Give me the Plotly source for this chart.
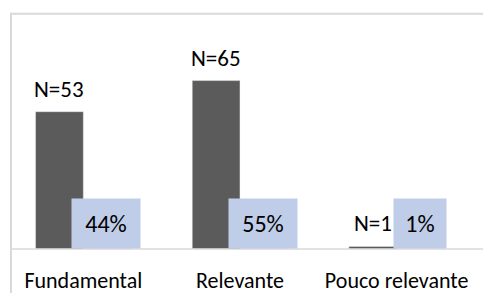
import plotly.graph_objects as go

categories = ["Fundamental", "Relevante", "Pouco relevante"]
counts = [53, 65, 1]
percents = [44, 55, 1]
count_labels = [f"N={n}" for n in counts]
percent_labels = [f"{p}%" for p in percents]

FONT = "Carlito, Calibri, Lato, sans-serif"
GRAY = "#5b5b5b"
BLUE = "#bfcde9"
FRAME = "#d9d9d9"

fig = go.Figure()
fig.add_trace(go.Bar(x=categories, y=counts, marker_color=GRAY, name="N",
                     hoverinfo="skip"))
fig.add_trace(go.Bar(x=categories, y=[p / 100 for p in percents], marker_color=BLUE,
                     name="%", hoverinfo="skip"))

for c, n, lab in zip(categories, counts, count_labels):
    fig.add_annotation(x=c, y=n, text=lab, showarrow=False, xanchor="center",
                       yanchor="bottom", xshift=-24, yshift=7,
                       font=dict(family=FONT, size=23, color="#000000"))

for c, lab in zip(categories, percent_labels):
    fig.add_annotation(x=c, y=0, text=lab, showarrow=False, xanchor="center",
                       yanchor="bottom", xshift=23, yshift=0, bgcolor=BLUE,
                       width=18 + 16 * len(lab), height=47,
                       font=dict(family=FONT, size=24, color="#000000"))

# chart frame (partially clipped like the reference)
fig.add_shape(type="path", xref="paper", yref="paper",
              path="M 0.0128,-0.3 L 0.0128,1.0015 L 1.1,1.0015",
              line=dict(color=FRAME, width=2))
# category axis line
fig.add_shape(type="line", xref="paper", yref="paper", x0=0.015, x1=1.02, y0=0, y1=0,
              line=dict(color=FRAME, width=1.5))

fig.update_layout(
    width=483, height=293,
    margin=dict(l=5, r=8, t=14, b=44),
    paper_bgcolor="white", plot_bgcolor="white",
    barmode="group", bargap=0.39, bargroupgap=0,
    showlegend=False,
    font=dict(family=FONT, size=22, color="#000000"),
)
fig.update_xaxes(showline=False, showgrid=False, ticks="", zeroline=False,
                 ticklabelstandoff=16, automargin=False,
                 tickfont=dict(family=FONT, size=22, color="#000000"))
fig.update_yaxes(range=[0, 90.7], visible=False, showgrid=False, zeroline=False)

fig.write_html("out.html", config={"displayModeBar": False},
               post_script="document.body.style.margin='0';")
